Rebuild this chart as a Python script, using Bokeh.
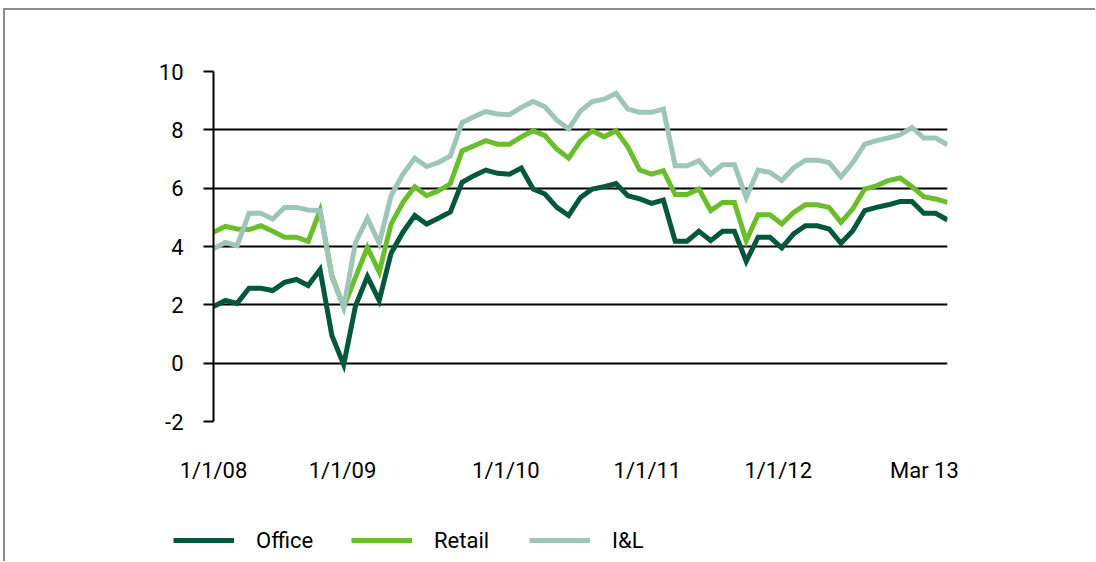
from bokeh.plotting import figure
from bokeh.layouts import column, row
from bokeh.models import FixedTicker, Range1d, Legend, LegendItem, ColumnDataSource
from bokeh.embed import file_html
from bokeh.resources import INLINE

# Monthly series, Jan 2008 .. Mar 2013 (63 months)
office = [1.94, 2.15, 2.05, 2.57, 2.57, 2.49, 2.77, 2.87, 2.66, 3.21,
          0.95, -0.05, 1.97, 2.97, 2.15, 3.77, 4.49, 5.06, 4.77, 4.97,
          5.18, 6.20, 6.43, 6.62, 6.51, 6.48, 6.69, 5.97, 5.80, 5.34,
          5.06, 5.68, 5.97, 6.05, 6.16, 5.74, 5.63, 5.48, 5.59, 4.18,
          4.18, 4.52, 4.20, 4.52, 4.52, 3.49, 4.32, 4.32, 3.95, 4.43,
          4.71, 4.71, 4.60, 4.11, 4.54, 5.23, 5.34, 5.43, 5.54, 5.54,
          5.14, 5.14, 4.91]
retail = [4.49, 4.69, 4.60, 4.58, 4.71, 4.52, 4.32, 4.32, 4.18, 5.23,
          3.00, 1.92, 2.95, 3.97, 3.12, 4.77, 5.51, 6.05, 5.74, 5.91,
          6.15, 7.28, 7.45, 7.63, 7.51, 7.51, 7.76, 7.97, 7.80, 7.34,
          7.03, 7.63, 7.97, 7.76, 7.97, 7.42, 6.62, 6.48, 6.60, 5.78,
          5.78, 5.97, 5.23, 5.51, 5.51, 4.20, 5.09, 5.09, 4.77, 5.17,
          5.43, 5.43, 5.34, 4.83, 5.29, 5.97, 6.08, 6.26, 6.35, 6.05,
          5.71, 5.63, 5.51]
il = [3.92, 4.14, 4.03, 5.14, 5.14, 4.94, 5.34, 5.34, 5.25, 5.23,
      2.95, 1.92, 4.14, 4.97, 4.11, 5.74, 6.48, 7.03, 6.74, 6.88,
      7.10, 8.25, 8.45, 8.63, 8.54, 8.52, 8.77, 8.97, 8.79, 8.33,
      8.03, 8.65, 8.97, 9.05, 9.25, 8.71, 8.60, 8.60, 8.71, 6.77,
      6.77, 6.94, 6.48, 6.80, 6.80, 5.68, 6.62, 6.54, 6.26, 6.69,
      6.96, 6.96, 6.88, 6.39, 6.88, 7.51, 7.63, 7.72, 7.83, 8.08,
      7.72, 7.72, 7.49]
months = list(range(len(office)))

series_cols = ["office", "retail", "il"]
series_names = ["Office", "Retail", "I&L"]
series_colors = ["#03573a", "#6abd2b", "#9dc5b9"]

x_tick_pos = [0, 10.9, 24.7, 36.65, 47.7, 60.05]
x_tick_labels = ["1/1/08", "1/1/09", "1/1/10", "1/1/11", "1/1/12", "Mar 13"]
y_ticks = [-2, 0, 2, 4, 6, 8, 10]
y_tick_labels = ["-2", "0", "2", "4", "6", "8", "10"]

FONT = "Roboto"
FS = "22px"
LW = 5

src = ColumnDataSource(dict(m=months, office=office, retail=retail, il=il))

# ---- main chart ----
p = figure(width=1090, height=490, output_backend="svg", toolbar_location=None,
           x_range=Range1d(0, len(office) - 1), y_range=Range1d(-2, 10),
           min_border_left=208, min_border_right=148, min_border_top=61,
           min_border_bottom=79)
p.outline_line_color = None
p.background_fill_color = "white"
p.border_fill_color = "white"

for col, color in zip(series_cols, series_colors):
    p.line("m", col, source=src, line_color=color, line_width=LW, line_join="miter")

p.yaxis.ticker = FixedTicker(ticks=y_ticks)
p.yaxis.major_label_overrides = {t: l for t, l in zip(y_ticks, y_tick_labels)}
p.yaxis.axis_line_color = "black"
p.yaxis.axis_line_width = 2
p.yaxis.major_tick_line_color = "black"
p.yaxis.major_tick_line_width = 2
p.yaxis.major_tick_out = 10
p.yaxis.major_tick_in = 0
p.yaxis.minor_tick_line_color = None
p.yaxis.major_label_standoff = 20
p.yaxis.major_label_text_font = FONT
p.yaxis.major_label_text_font_size = FS
p.yaxis.major_label_text_color = "black"

p.xaxis.ticker = FixedTicker(ticks=x_tick_pos)
p.xaxis.major_label_overrides = {t: l for t, l in zip(x_tick_pos, x_tick_labels)}
p.xaxis.axis_line_color = None
p.xaxis.major_tick_line_color = None
p.xaxis.minor_tick_line_color = None
p.xaxis.major_tick_out = 0
p.xaxis.major_label_standoff = 36
p.xaxis.major_label_text_font = FONT
p.xaxis.major_label_text_font_size = FS
p.xaxis.major_label_text_color = "black"

p.xgrid.grid_line_color = None
p.ygrid.ticker = FixedTicker(ticks=y_ticks)
p.ygrid.grid_line_color = "black"
p.ygrid.grid_line_width = 2

# ---- legend strip (same series, plotted out of view, only the legend shows) ----
lg = figure(width=1090, height=61, output_backend="svg", toolbar_location=None,
            x_range=Range1d(0, 1), y_range=Range1d(100, 101),
            x_axis_location=None, y_axis_location=None,
            min_border_left=0, min_border_right=0, min_border_top=0,
            min_border_bottom=0)
lg.outline_line_color = None
lg.xgrid.grid_line_color = None
lg.ygrid.grid_line_color = None
lg.background_fill_color = "white"
lg.border_fill_color = "white"

items = []
for col, name, color in zip(series_cols, series_names, series_colors):
    r = lg.line("m", col, source=src, line_color=color, line_width=LW)
    items.append(LegendItem(label=name, renderers=[r]))

legend = Legend(items=items, location=(168, 7), orientation="horizontal",
                glyph_width=61, glyph_height=28, label_height=28, label_width=60,
                label_standoff=22, padding=0, margin=0, spacing=35,
                border_line_color=None, background_fill_alpha=0,
                label_text_font=FONT, label_text_font_size=FS,
                label_text_color="black")
lg.add_layout(legend, "center")

layout = column(p, row(lg, spacing=0), spacing=0)
layout.styles = {"border-top": "2px solid #8c8c8c", "border-left": "2px solid #8c8c8c",
                 "margin-left": "3px", "margin-top": "8px"}

open("out.html", "w").write(file_html(layout, INLINE))
